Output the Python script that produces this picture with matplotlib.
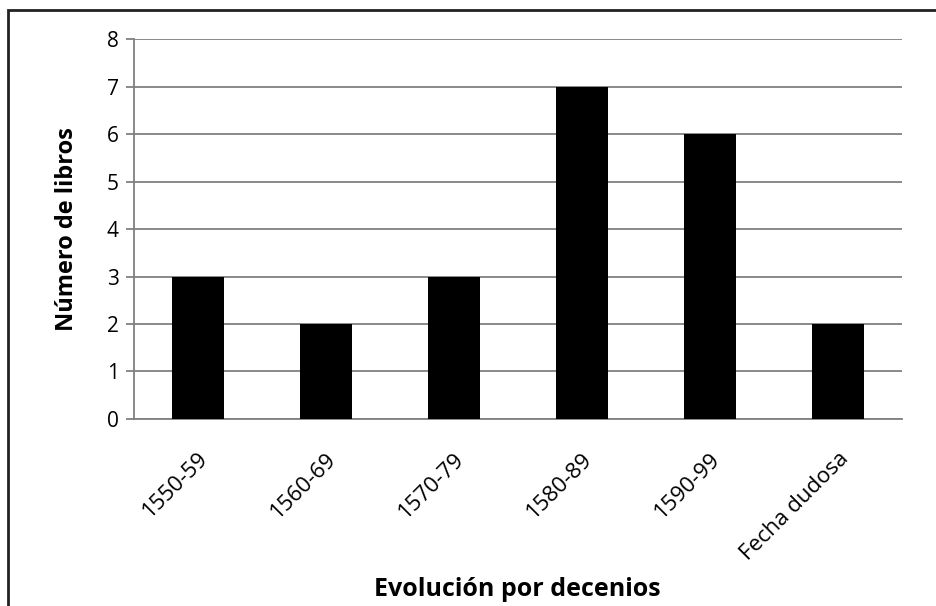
import matplotlib.pyplot as plt
from matplotlib.patches import Rectangle

# Data
decades = ['1550-59', '1560-69', '1570-79', '1580-89', '1590-99', 'Fecha dudosa']
books = [3, 2, 3, 7, 6, 2]
y_ticks = [0, 1, 2, 3, 4, 5, 6, 7, 8]

plt.rcParams['font.family'] = ['Open Sans', 'DejaVu Sans']

fig = plt.figure(figsize=(9.37, 6.06), dpi=100)
ax = fig.add_axes([0.143, 0.3086, 0.8196, 0.627])

x = range(len(decades))
ax.bar(x, books, width=0.4, color='black', zorder=3)

ax.set_xlim(-0.5, len(decades) - 0.5)
ax.set_ylim(0, 8)
ax.set_yticks(y_ticks)
ax.yaxis.grid(True, color='#808080', linewidth=1.3, zorder=0)

ax.set_xticks(list(x))
ax.set_xticklabels(decades, rotation=45, ha='right', va='top',
                   rotation_mode='anchor', fontsize=16)
ax.tick_params(axis='x', length=0, pad=21)
ax.tick_params(axis='y', length=6, color='#808080', width=1.3,
               labelsize=15, pad=5)

for side in ['top', 'right']:
    ax.spines[side].set_visible(False)
ax.spines['left'].set_color('#808080')
ax.spines['bottom'].set_color('#808080')
ax.spines['left'].set_linewidth(1.3)
ax.spines['bottom'].set_linewidth(1.3)

ax.set_ylabel('Número de libros', fontsize=17, fontweight='bold')
ax.yaxis.set_label_coords(-0.072, 0.5)
fig.text(0.552, 0.027, 'Evolución por decenios', fontsize=18, fontweight='bold',
         ha='center', va='center')

# Frame around the whole chart (cut at right and bottom edges)
fig.patches.append(Rectangle((8 / 937, -0.05), 1.2, 1 - 10 / 606 + 0.05,
                             transform=fig.transFigure, fill=False,
                             edgecolor='#222222', linewidth=2))

plt.savefig('out.png', dpi=100)
